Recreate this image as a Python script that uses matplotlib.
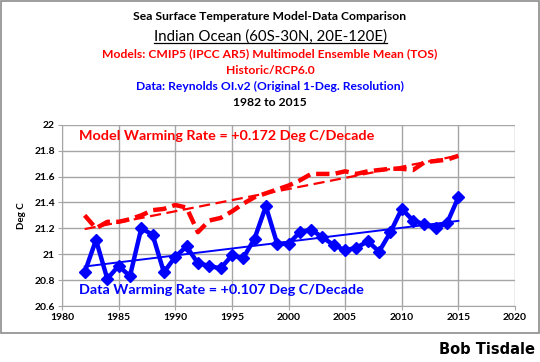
import numpy as np
import matplotlib
matplotlib.use("Agg")
import matplotlib.pyplot as plt
from matplotlib.patches import Rectangle

years = list(range(1982, 2016))

# Reynolds OI.v2, Indian Ocean (60S-30N, 20E-120E), deg C
data_sst = [20.86, 21.11, 20.81, 20.91, 20.83, 21.20, 21.15, 20.86, 20.98, 21.06,
            20.93, 20.91, 20.89, 20.99, 20.97, 21.12, 21.37, 21.08, 21.08, 21.17,
            21.19, 21.13, 21.07, 21.03, 21.05, 21.10, 21.02, 21.17, 21.35, 21.26,
            21.23, 21.20, 21.24, 21.44]

# CMIP5 multimodel ensemble mean (TOS), Historic/RCP6.0
model_sst = [21.30, 21.20, 21.25, 21.25, 21.27, 21.30, 21.34, 21.35, 21.38, 21.36,
             21.17, 21.26, 21.28, 21.33, 21.39, 21.44, 21.47, 21.50, 21.53, 21.57,
             21.62, 21.62, 21.62, 21.64, 21.62, 21.64, 21.65, 21.66, 21.66, 21.65,
             21.71, 21.72, 21.73, 21.76]

title_lines = [
    ("Sea Surface Temperature Model-Data Comparison", "black", 8.7),
    ("Indian Ocean (60S-30N, 20E-120E)", "black", 10.8),
    ("Models: CMIP5 (IPCC AR5) Multimodel Ensemble Mean (TOS)", "#ff0000", 8.7),
    ("Historic/RCP6.0", "#ff0000", 8.7),
    ("Data: Reynolds OI.v2 (Original 1-Deg. Resolution)", "#0000ff", 8.7),
    ("1982 to 2015", "black", 8.7),
]
title_y = [17, 37, 54, 70, 86, 102]

plt.rcParams['font.family'] = ['Lato', 'DejaVu Sans']

fig = plt.figure(figsize=(5.4, 3.62), dpi=100)
W, H = 540, 362

# outer chart border
fig.patches.append(Rectangle((1 / W, 1 - 333 / H), 538 / W, 332 / H,
                             transform=fig.transFigure, fill=False,
                             edgecolor="#8c8c8c", linewidth=1.2))

ax = fig.add_axes([62 / W, 1 - 306 / H, 453 / W, 181.3 / H])

x = np.array(years)
ax.plot(x, data_sst, color="#0000ff", lw=3.2, marker="D", ms=6.5, zorder=4)
ax.plot(x, model_sst, color="#ff0000", lw=3.2, ls=(0, (3, 1.4)), zorder=3)

# linear trends
p_d = np.polyfit(x, data_sst, 1)
p_m = np.polyfit(x, model_sst, 1)
ax.plot(x, np.polyval(p_d, x), color="#0000ff", lw=1.4, zorder=3)
ax.plot(x, np.polyval(p_m, x), color="#ff0000", lw=1.6, ls=(0, (5, 2.5)), zorder=3)

ax.set_xlim(1980, 2020)
ax.set_ylim(20.6, 22.0)
ax.set_xticks(range(1980, 2021, 5))
ax.set_yticks(np.arange(20.6, 22.01, 0.2))
ax.set_yticklabels(["20.6", "20.8", "21", "21.2", "21.4", "21.6", "21.8", "22"])
ax.grid(True, color="#a6a6a6", lw=1.0)
ax.set_axisbelow(True)
for s in ax.spines.values():
    s.set_visible(False)
ax.spines["left"].set_visible(True)
ax.spines["left"].set_color("#a6a6a6")
ax.spines["bottom"].set_visible(True)
ax.spines["bottom"].set_color("#a6a6a6")
ax.tick_params(length=3, color="#a6a6a6", labelsize=7.5, pad=2)
for lbl in ax.get_xticklabels() + ax.get_yticklabels():
    lbl.set_fontweight("bold")
ax.set_ylabel("Deg C", fontsize=7, fontweight="bold", labelpad=6)

ax.text(1981.5, 21.91, "Model Warming Rate = +%.3f Deg C/Decade" % (p_m[0] * 10),
        color="#ff0000", fontsize=10.4, fontweight="bold", va="center")
ax.text(1981.5, 20.72, "Data Warming Rate = +%.3f Deg C/Decade" % (p_d[0] * 10),
        color="#0000ff", fontsize=10.4, fontweight="bold", va="center")

for (txt, col, fs), yy in zip(title_lines, title_y):
    t = fig.text(270 / W, 1 - yy / H, txt, color=col, fontsize=fs,
                 fontweight="bold" if fs < 10 else "normal",
                 ha="center", va="center")
    if fs >= 10:
        fig.canvas.draw()
        bb = t.get_window_extent().transformed(fig.transFigure.inverted())
        fig.add_artist(plt.Line2D([bb.x0, bb.x1], [bb.y0 + 0.002, bb.y0 + 0.002],
                                  transform=fig.transFigure, color="black", lw=0.9))

fig.text(535 / W, 1 - 350 / H, "Bob Tisdale", fontsize=10.5, fontweight="bold",
         family="DejaVu Sans", ha="right", va="center")

fig.savefig("out.png", dpi=100)
